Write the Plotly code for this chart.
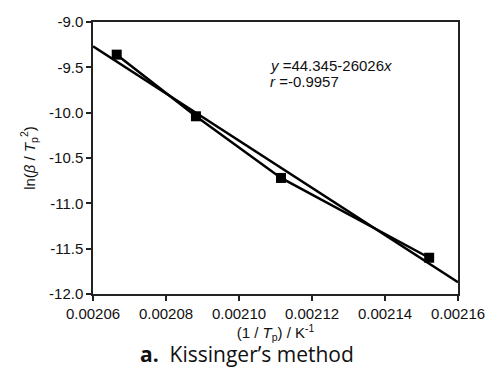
import plotly.graph_objects as go

# data
inv_tp = [0.0020665, 0.0020882, 0.0021115, 0.0021521]
ln_beta_tp2 = [-9.36, -10.04, -10.72, -11.60]
fit_intercept = 44.345
fit_slope = -26026
fit_x = [0.00206, 0.00216]
fit_y = [fit_intercept + fit_slope * v for v in fit_x]

x_tickvals = [0.00206, 0.00208, 0.00210, 0.00212, 0.00214, 0.00216]
x_ticktext = ["0.00206", "0.00208", "0.00210", "0.00212", "0.00214", "0.00216"]
y_tickvals = [-9.0, -9.5, -10.0, -10.5, -11.0, -11.5, -12.0]
y_ticktext = ["-9.0", "-9.5", "-10.0", "-10.5", "-11.0", "-11.5", "-12.0"]

fig = go.Figure()
fig.add_trace(go.Scatter(x=fit_x, y=fit_y, mode="lines",
                         line=dict(color="black", width=2.5), showlegend=False))
fig.add_trace(go.Scatter(x=inv_tp, y=ln_beta_tp2, mode="lines+markers",
                         line=dict(color="black", width=2.5),
                         marker=dict(symbol="square", size=10, color="black"),
                         showlegend=False, cliponaxis=False))

FAM = "Liberation Sans, Arial"
axis_font = dict(family=FAM, size=15, color="#111")
# page body has an 8px default margin, so the figure is 8px smaller and shifted
fig.update_layout(
    width=485, height=359,
    margin=dict(l=85, r=35, t=14, b=73),
    paper_bgcolor="white", plot_bgcolor="white",
    font=axis_font,
    xaxis=dict(range=[0.00206, 0.00216], tickvals=x_tickvals, ticktext=x_ticktext,
               showgrid=False, zeroline=False, showline=True, linecolor="#222",
               linewidth=1.5, mirror=True, ticks="outside", ticklen=5,
               tickwidth=1.5, tickcolor="#222", tickfont=axis_font, automargin=False,
               title=dict(text="(1 / <i>T</i><sub>p</sub>) / K<sup>-1</sup>",
                          font=dict(family=FAM, size=15), standoff=0)),
    yaxis=dict(range=[-12.0, -9.0], tickvals=y_tickvals, ticktext=y_ticktext,
               showgrid=False, zeroline=False, showline=True, linecolor="#222",
               linewidth=1.5, mirror=True, ticks="outside", ticklen=5,
               tickwidth=1.5, tickcolor="#222", tickfont=axis_font, automargin=False,
               title=dict(text="ln(<i>β</i> / <i>T</i><sub>p</sub><sup>2</sup>)",
                          font=dict(family=FAM, size=15), standoff=10)),
)

fig.add_annotation(xref="paper", yref="paper", x=(268 - 93) / 365, y=(294 - 65) / 272,
                   xanchor="left", yanchor="middle", showarrow=False,
                   text="<i>y</i> =44.345-26026<i>x</i>",
                   font=dict(family=FAM, size=15, color="#111"))
fig.add_annotation(xref="paper", yref="paper", x=(268 - 93) / 365, y=(294 - 81) / 272,
                   xanchor="left", yanchor="middle", showarrow=False,
                   text="<i>r</i> =-0.9957",
                   font=dict(family=FAM, size=15, color="#111"))
fig.add_annotation(xref="paper", yref="paper", x=(247 - 93) / 365, y=(294 - 354) / 272,
                   xanchor="center", yanchor="middle", showarrow=False,
                   text="<b>a.</b>  Kissinger’s method",
                   font=dict(family="Open Sans, Lato", size=21, color="#111"))

fig.write_html("out.html")
